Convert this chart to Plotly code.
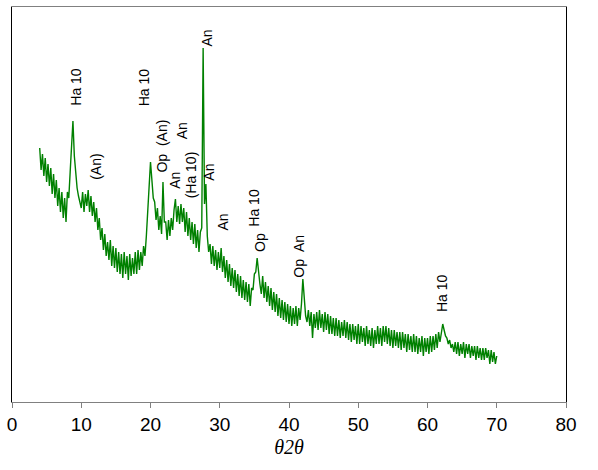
import plotly.graph_objects as go

# 2-theta positions (degrees), step 0.2 from 4.0 to 70.0
two_theta = [round(4.0 + 0.2 * i, 1) for i in range(331)]

# Intensity (arbitrary units), one row per 2 degrees
intensity = [
    254, 232, 248, 226, 244, 220, 238, 216, 234, 208,   # 4.0-5.8
    228, 204, 222, 196, 214, 190, 210, 184, 204, 180,   # 6.0-7.8
    210, 204, 230, 250, 281, 246, 226, 214, 206, 198,   # 8.0-9.8
    194, 210, 190, 208, 196, 212, 190, 206, 186, 200,   # 10.0-11.8
    180, 194, 172, 184, 162, 174, 152, 168, 146, 160,   # 12.0-13.8
    142, 162, 136, 156, 134, 154, 130, 150, 128, 148,   # 14.0-15.8
    124, 150, 128, 146, 122, 148, 126, 144, 128, 150,   # 16.0-17.8
    128, 152, 132, 150, 136, 156, 146, 166, 190, 226,   # 18.0-19.8
    240, 222, 204, 200, 182, 194, 172, 186, 168, 220,   # 20.0-21.8
    180, 180, 162, 182, 166, 184, 172, 192, 203, 180,   # 22.0-23.8
    196, 178, 198, 180, 194, 170, 190, 166, 184, 162,   # 24.0-25.8
    180, 158, 178, 154, 172, 150, 170, 174, 354, 198,   # 26.0-27.8
    218, 166, 150, 158, 138, 156, 136, 152, 132, 150,   # 28.0-29.8
    134, 154, 130, 146, 124, 142, 120, 138, 116, 134,   # 30.0-31.8
    114, 132, 110, 128, 106, 126, 104, 122, 102, 120,   # 32.0-33.8
    100, 118, 96, 114, 112, 128, 130, 144, 128, 118,    # 34.0-35.8
    108, 126, 104, 120, 100, 116, 96, 114, 92, 110,     # 36.0-37.8
    90, 108, 86, 104, 84, 102, 82, 100, 80, 98,         # 38.0-39.8
    78, 96, 76, 94, 78, 96, 76, 94, 82, 98,             # 40.0-41.8
    123, 98, 86, 80, 92, 76, 90, 64, 88, 74,            # 42.0-43.8
    90, 72, 92, 74, 88, 70, 90, 72, 88, 68,             # 44.0-45.8
    86, 68, 84, 66, 84, 66, 82, 64, 80, 66,             # 46.0-47.8
    82, 64, 80, 62, 78, 60, 78, 62, 76, 58,             # 48.0-49.8
    78, 58, 76, 60, 74, 56, 76, 58, 72, 56,             # 50.0-51.8
    74, 54, 72, 58, 76, 58, 74, 56, 76, 60,             # 52.0-53.8
    76, 58, 74, 56, 72, 54, 72, 56, 70, 54,             # 54.0-55.8
    70, 52, 70, 54, 68, 50, 68, 52, 66, 50,             # 56.0-57.8
    68, 50, 66, 48, 64, 50, 66, 46, 64, 50,             # 58.0-59.8
    64, 48, 66, 50, 66, 52, 68, 54, 70, 60,             # 60.0-61.8
    72, 78, 72, 66, 64, 58, 62, 54, 58, 50,             # 62.0-63.8
    60, 48, 60, 46, 58, 48, 60, 44, 58, 48,             # 64.0-65.8
    58, 44, 56, 46, 56, 42, 56, 44, 54, 42,             # 66.0-67.8
    54, 42, 54, 44, 52, 38, 52, 40, 50, 38,             # 68.0-69.8
    46,                                                 # 70.0
]

# Phase labels: text, 2-theta, height (a.u.)
label_text = ["Ha 10", "(An)", "Ha 10", "Op  (An)", "An", "An", "(Ha 10)",
              "An", "An", "An", "Ha 10", "Op", "Op  An", "Ha 10"]
label_x = [9.2, 12.1, 19.1, 21.6, 24.6, 23.5, 25.9,
           28.1, 28.4, 30.4, 34.9, 35.8, 41.4, 62.1]
label_y = [315, 235, 315, 256, 271, 222, 227,
           364, 230, 180, 194, 160, 146, 109]

tick_vals = [0, 10, 20, 30, 40, 50, 60, 70, 80]

fig = go.Figure()
fig.add_trace(go.Scatter(x=two_theta, y=intensity, mode="lines",
                         line=dict(color="#008000", width=1.4),
                         showlegend=False, hoverinfo="skip"))

for t, x, y in zip(label_text, label_x, label_y):
    fig.add_annotation(x=x, y=y, text=t, showarrow=False, textangle=-90,
                       font=dict(family="Arial, Liberation Sans", size=14, color="black"),
                       xanchor="center", yanchor="middle")

fig.update_layout(
    width=598, height=470,
    margin=dict(l=12, r=32, t=7, b=68),
    paper_bgcolor="white", plot_bgcolor="white",
    xaxis=dict(range=[0, 80], tickvals=tick_vals, ticks="outside", ticklen=5,
               tickcolor="#808080", showgrid=False, zeroline=False,
               showline=True, linecolor="#808080", linewidth=1, mirror=True,
               tickfont=dict(family="Arial, Liberation Sans", size=19, color="black"),
               title=dict(text="<i>θ2θ</i>", standoff=6,
                          font=dict(family="Times New Roman, Liberation Serif", size=20, color="black"))),
    yaxis=dict(range=[0, 395], showticklabels=False, ticks="", showgrid=False,
               zeroline=False, showline=True, linecolor="black", linewidth=1, mirror=True),
)

fig.write_html("out.html", config={"displayModeBar": False})
with open("out.html", "r", encoding="utf-8") as f:
    html = f.read()
html = html.replace("<body>", '<body style="margin:0;padding:0;">', 1)
with open("out.html", "w", encoding="utf-8") as f:
    f.write(html)
